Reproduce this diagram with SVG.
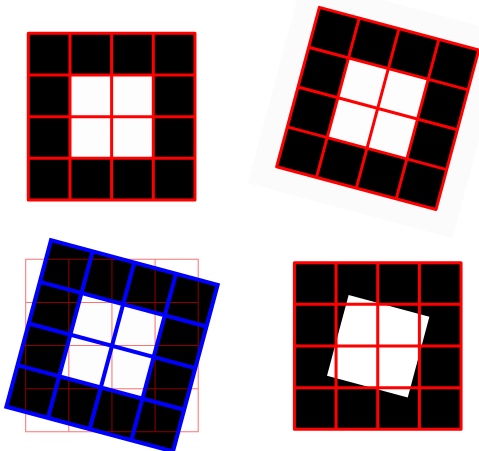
<svg xmlns="http://www.w3.org/2000/svg" width="479" height="451" viewBox="0 0 479 451">
<style>
.red{stroke:#ff0000;stroke-width:3;fill:none;stroke-linejoin:round}
.thin{stroke:#ff0000;stroke-opacity:0.55;stroke-width:1;fill:none;vector-effect:non-scaling-stroke}
.blue{stroke:#0000ff;stroke-width:3.9;fill:none;stroke-linejoin:miter}
</style>
<defs>
<g id="cells">
<rect width="166.67" height="166.67" fill="#000"/>
<rect x="41.67" y="41.67" width="83.33" height="83.33" fill="#fdfdfd"/>
</g>
<path id="lines" d="M0 0H166.67V166.67H0Z M41.67 0V166.67 M83.33 0V166.67 M125 0V166.67 M0 41.67H166.67 M0 83.33H166.67 M0 125H166.67"/>
</defs>
<rect width="479" height="451" fill="#fff"/>

<g id="panel1" transform="translate(28.3,33.3)">
<use href="#cells"/>
<use href="#lines" class="red"/>
</g>

<g id="panel2">
<rect x="-106" y="-106" width="212" height="212" fill="#fbfbfb" transform="translate(377.7,108.4) rotate(15)"/>
<g transform="translate(377.7,108.4) rotate(15) scale(0.99) translate(-83.33,-83.33)">
<use href="#cells"/>
<use href="#lines" class="red"/>
</g>
</g>

<g id="panel3">
<g transform="translate(112,345.8) rotate(15) scale(1.035) translate(-83.33,-83.33)">
<use href="#cells"/>
</g>
<g transform="translate(25.7,259.3) scale(1.035)">
<use href="#lines" class="thin"/>
</g>
<g transform="translate(112,345.8) rotate(15) scale(1.035) translate(-83.33,-83.33)">
<use href="#lines" class="blue"/>
</g>
</g>

<g id="panel4">
<rect x="294.4" y="262.7" width="166.67" height="166.67" fill="#000"/>
<rect x="-41.8" y="-41.8" width="83.6" height="83.6" fill="#fff" transform="translate(378.2,346.3) rotate(15)"/>
<g transform="translate(294.4,262.7)">
<use href="#lines" class="red"/>
</g>
</g>
</svg>
